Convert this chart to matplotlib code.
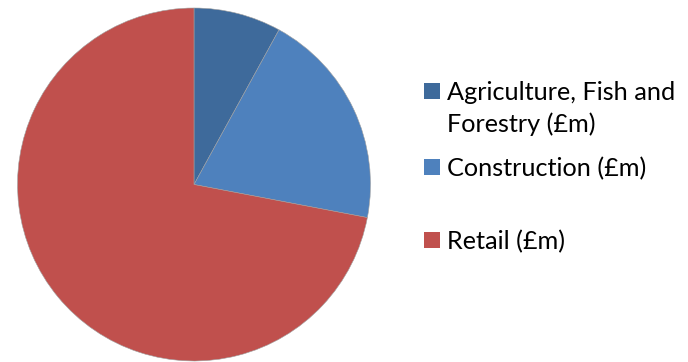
import matplotlib.pyplot as plt
from matplotlib.patches import Rectangle

# Sector output shares
sectors = ['Agriculture, Fish and\nForestry (£m)', 'Construction (£m)', 'Retail (£m)']
values = [8.0, 20.0, 72.0]
colors = ['#3E6A9B', '#4E81BD', '#C0504D']

W, H = 688, 362
fig = plt.figure(figsize=(W / 100, H / 100), dpi=100)

# pie centred at (194, 184.5) px with radius 176.5 px
cx, cy, r = 194, 184.5, 176.5
ax = fig.add_axes([(cx - r) / W, (H - cy - r) / H, 2 * r / W, 2 * r / H])
ax.pie(values, colors=colors, startangle=90, counterclock=False, radius=1,
       wedgeprops=dict(edgecolor='#A0A0A0', linewidth=0.4))
ax.set_xlim(-1, 1)
ax.set_ylim(-1, 1)
ax.set_aspect('equal')
ax.axis('off')

# legend drawn by hand so the entries sit where they should
sq = 16
box_x = 424
text_x = 447
rows_y = [91, 167, 240]
font = ['Lato', 'DejaVu Sans']

# size the font so the longest line spans about 230 px
probe = fig.text(0, 0, sectors[0].split('\n')[0], fontsize=16, family=font)
renderer = fig.canvas.get_renderer()
fs = 16 * 230 / probe.get_window_extent(renderer).width
probe.remove()
print('font size', fs)

for label, col, y in zip(sectors, colors, rows_y):
    fig.add_artist(Rectangle((box_x / W, (H - y - sq / 2) / H), sq / W, sq / H,
                             transform=fig.transFigure, facecolor=col, edgecolor='none'))
    fig.text(text_x / W, (H - y + 10) / H, label, fontsize=fs, family=font,
             va='top', ha='left', linespacing=1.45, color='black')

fig.savefig('out.png', dpi=100)
